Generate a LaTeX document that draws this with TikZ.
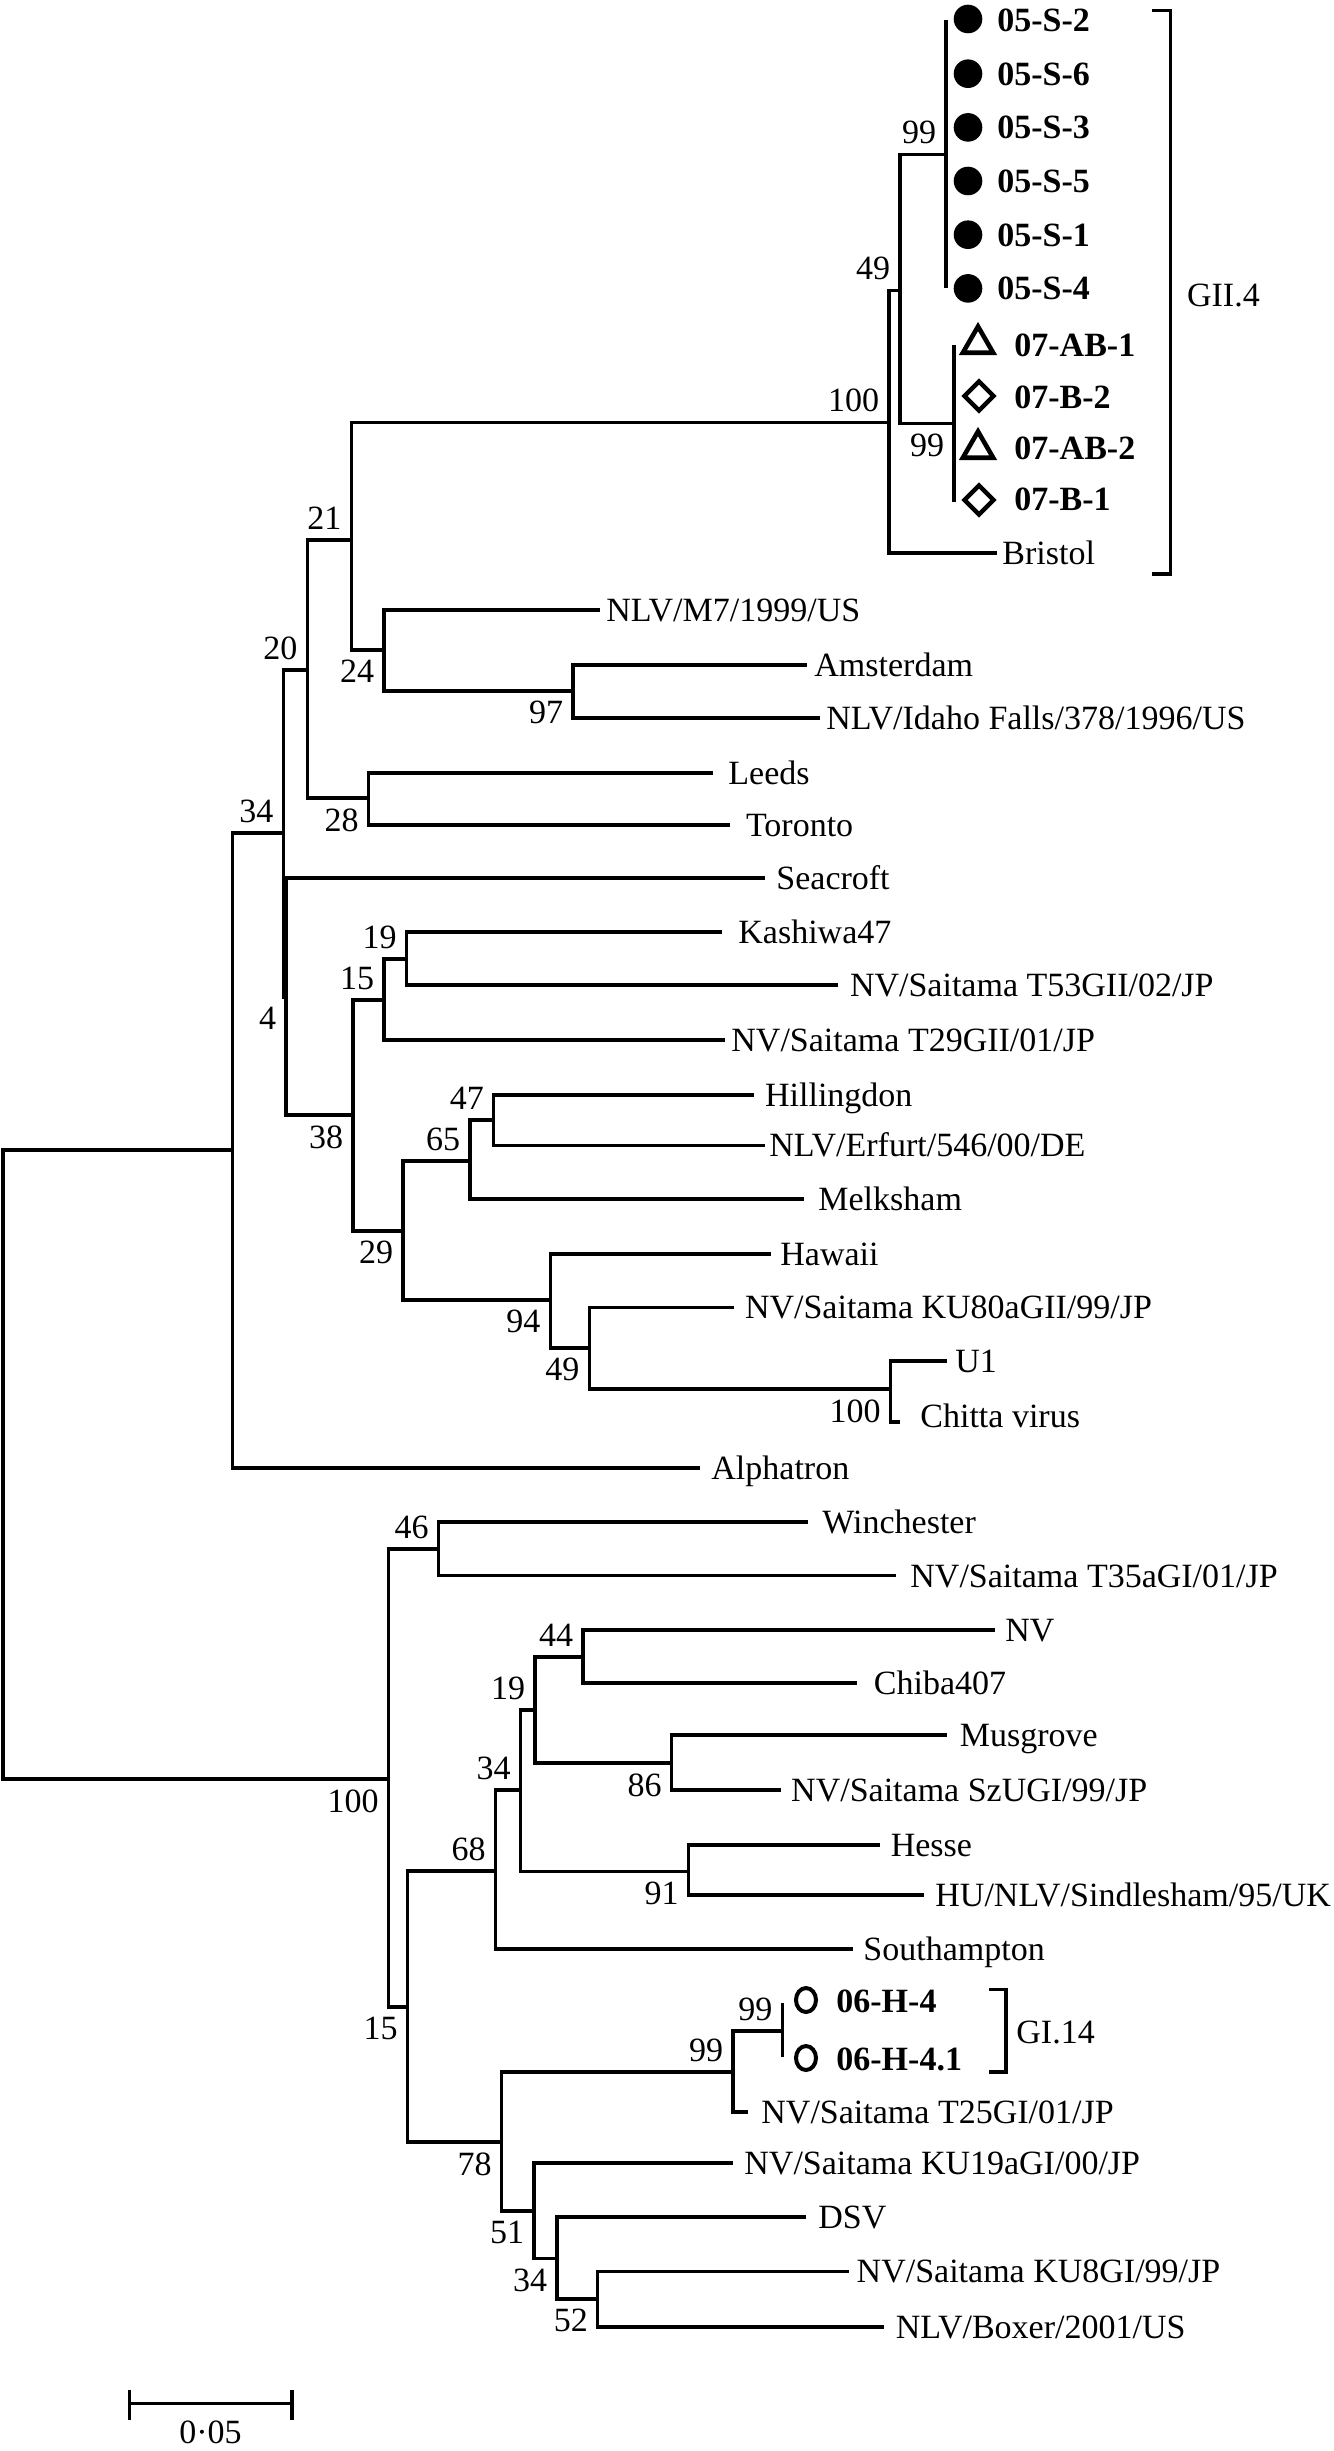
\documentclass[tikz,border=0pt]{standalone}
\usepackage{fontspec}
\setmainfont{Liberation Serif}
\usetikzlibrary{shapes.geometric}
\newcommand\tfont{\fontsize{17}{20.4}\selectfont}
\tikzset{
  br/.style={line width=1.65pt, line join=miter},
  leaf/.style={anchor=west, inner sep=0pt, text height=11.5pt, text depth=0pt, font=\tfont},
  bleaf/.style={leaf, font=\tfont\bfseries},
  bsa/.style={anchor=south east, inner sep=0pt, xshift=-4.8pt, yshift=5pt, font=\tfont},
  bsb/.style={anchor=north east, inner sep=0pt, xshift=-4.8pt, yshift=-5pt, font=\tfont},
  fcirc/.style={circle, fill=black, inner sep=0pt, minimum size=14.3pt},
  ocirc/.style={line width=2pt},
  tri/.style={regular polygon, regular polygon sides=3, draw=black, line width=2.3pt, inner sep=0pt, minimum size=17.5pt},
  dia/.style={diamond, draw=black, line width=2.2pt, inner sep=0pt, minimum width=15.5pt, minimum height=15.5pt},
}
\begin{document}
\begin{tikzpicture}[x=0.5pt,y=-0.5pt]
\useasboundingbox (0,0) rectangle (1333,2451);
% internal nodes
\coordinate (root) at (3,1465);
\coordinate (nA) at (232.3,1150);
\coordinate (n34) at (283.3,833);
\coordinate (n20) at (307.4,670);
\coordinate (n21) at (351.4,540);
\coordinate (nG) at (889,422.5);
\coordinate (n49) at (900,290.5);
\coordinate (n99a) at (946,154.2);
\coordinate (n99b) at (954,423.5);
\coordinate (n24) at (384,650);
\coordinate (n97) at (573,691);
\coordinate (n28) at (368.6,798);
\coordinate (n4) at (286,997);
\coordinate (n38) at (353,1115);
\coordinate (n15) at (384,1000);
\coordinate (n19) at (406.7,959);
\coordinate (n29) at (403,1231);
\coordinate (n65) at (470,1161);
\coordinate (n47) at (493.75,1120);
\coordinate (n94) at (550.4,1300);
\coordinate (n49b) at (589.3,1348);
\coordinate (n100c) at (890.7,1389);
\coordinate (nB) at (388.6,1779);
\coordinate (n46) at (438.5,1549);
\coordinate (n15b) at (407.7,2007);
\coordinate (n68) at (495.5,1871);
\coordinate (n34b) at (520.5,1790);
\coordinate (n19b) at (535,1710);
\coordinate (n44) at (583,1657);
\coordinate (n86) at (671.6,1763);
\coordinate (n91) at (688.6,1871.5);
\coordinate (n78) at (501.7,2142);
\coordinate (n99c) at (733,2072);
\coordinate (n99d) at (782.3,2031);
\coordinate (n51) at (534,2211);
\coordinate (n34c) at (557,2258.5);
\coordinate (n52) at (597.8,2299);
% leaf ends
\coordinate (l1) at (946,20);
\coordinate (l2) at (946,73.7);
\coordinate (l3) at (946,127.4);
\coordinate (l4) at (946,181);
\coordinate (l5) at (946,234.7);
\coordinate (l6) at (946,288.4);
\coordinate (l7) at (954,345);
\coordinate (l8) at (954,398);
\coordinate (l9) at (954,450);
\coordinate (l10) at (954,502);
\coordinate (lBr) at (996.7,553);
\coordinate (lM7) at (600,610);
\coordinate (lAm) at (807,665);
\coordinate (lId) at (820,718);
\coordinate (lLe) at (713,773);
\coordinate (lTo) at (730,825);
\coordinate (lSe) at (764.7,878);
\coordinate (lKa) at (722,932);
\coordinate (lT53) at (838,985);
\coordinate (lT29) at (724.6,1040);
\coordinate (lHi) at (753.6,1095);
\coordinate (lEr) at (764.7,1145.4);
\coordinate (lMe) at (803.6,1199);
\coordinate (lHa) at (771,1254);
\coordinate (lK80) at (733.5,1307.3);
\coordinate (lU1) at (946.7,1361);
\coordinate (lCh) at (900,1422);
\coordinate (lAl) at (700,1468);
\coordinate (lWi) at (808,1522);
\coordinate (lT35) at (895.5,1575.5);
\coordinate (lNV) at (994.5,1630);
\coordinate (lCb) at (856.6,1683);
\coordinate (lMu) at (947,1735);
\coordinate (lSz) at (781.3,1790);
\coordinate (lHe) at (880,1845);
\coordinate (lHU) at (923.7,1895);
\coordinate (lSo) at (852.8,1949);
\coordinate (lH1) at (782.3,2003);
\coordinate (lH2) at (782.3,2057);
\coordinate (lT25) at (748,2112);
\coordinate (lK19) at (733,2163);
\coordinate (lDS) at (806,2217);
\coordinate (lK8) at (848.6,2271.3);
\coordinate (lBo) at (884.4,2327);
% branches
\foreach \p/\c in {root/nA, root/nB, nA/n34, nA/lAl, n34/n20, n34/n4, n20/n21, n20/n28,
  n21/nG, n21/n24, nG/n49, nG/lBr, n49/n99a, n49/n99b,
  n99a/l1, n99a/l2, n99a/l3, n99a/l4, n99a/l5, n99a/l6,
  n99b/l7, n99b/l8, n99b/l9, n99b/l10,
  n24/lM7, n24/n97, n97/lAm, n97/lId, n28/lLe, n28/lTo,
  n4/lSe, n4/n38, n38/n15, n38/n29, n15/n19, n15/lT29, n19/lKa, n19/lT53,
  n29/n65, n29/n94, n65/n47, n65/lMe, n47/lHi, n47/lEr,
  n94/lHa, n94/n49b, n49b/lK80, n49b/n100c, n100c/lU1, n100c/lCh,
  nB/n46, nB/n15b, n46/lWi, n46/lT35, n15b/n68, n15b/n78,
  n68/n34b, n68/lSo, n34b/n19b, n34b/n91, n19b/n44, n19b/n86,
  n44/lNV, n44/lCb, n86/lMu, n86/lSz, n91/lHe, n91/lHU,
  n78/n99c, n78/n51, n99c/n99d, n99c/lT25, n99d/lH1, n99d/lH2,
  n51/lK19, n51/n34c, n34c/lDS, n34c/n52, n52/lK8, n52/lBo}
  \draw[br] (\p) |- (\c);
% bootstrap labels
\node[bsa] (b99a) at (n99a) {99};
\node[bsa] (b49) at (n49) {49};
\node[bsa] (bG) at (nG) {100};
\node[bsa] (b21) at (n21) {21};
\node[bsa] (b20) at (n20) {20};
\node[bsa] (b34) at (n34) {34};
\node[bsa] (b15) at (n15) {15};
\node[bsa] (b19) at (n19) {19};
\node[bsa] (b65) at (n65) {65};
\node[bsa] (b47) at (n47) {47};
\node[bsa] (b46) at (n46) {46};
\node[bsa] (b44) at (n44) {44};
\node[bsa] (b19b) at (n19b) {19};
\node[bsa] (b34b) at (n34b) {34};
\node[bsa] (b68) at (n68) {68};
\node[bsa] (b99c) at (n99c) {99};
\node[bsa] (b99d) at (n99d) {99};
\node[bsb] (b99b) at (n99b) {99};
\node[bsb] (b24) at (n24) {24};
\node[bsb] (b97) at (n97) {97};
\node[bsb] (b28) at (n28) {28};
\node[bsb] (b4) at (n4) {4};
\node[bsb] (b38) at (n38) {38};
\node[bsb] (b29) at (n29) {29};
\node[bsb] (b94) at (n94) {94};
\node[bsb] (b49b) at (n49b) {49};
\node[bsb] (b100c) at (n100c) {100};
\node[bsb] (bB) at (nB) {100};
\node[bsb] (b86) at (n86) {86};
\node[bsb] (b91) at (n91) {91};
\node[bsb] (b15b) at (n15b) {15};
\node[bsb] (b78) at (n78) {78};
\node[bsb] (b51) at (n51) {51};
\node[bsb] (b34c) at (n34c) {34};
\node[bsb] (b52) at (n52) {52};
% symbols
\node[fcirc] (s1) at (968,19) {};
\node[fcirc] (s2) at (968,73.7) {};
\node[fcirc] (s3) at (968,127.4) {};
\node[fcirc] (s4) at (968,181) {};
\node[fcirc] (s5) at (968,234.7) {};
\node[fcirc] (s6) at (968,288.4) {};
\node[tri] (s7) at (978,344) {};
\node[dia] (s8) at (979,396) {};
\node[tri] (s9) at (978,449) {};
\node[dia] (s10) at (979,500) {};
\coordinate (s11) at (806,2000);
\coordinate (s12) at (806,2058);
\draw[ocirc] (s11) ellipse [x radius=10, y radius=12];
\draw[ocirc] (s12) ellipse [x radius=10, y radius=12];
% leaf texts
\node[bleaf] (t1) at (997,20) {05-S-2};
\node[bleaf] (t2) at (997,73.7) {05-S-6};
\node[bleaf] (t3) at (997,127.4) {05-S-3};
\node[bleaf] (t4) at (997,181) {05-S-5};
\node[bleaf] (t5) at (997,234.7) {05-S-1};
\node[bleaf] (t6) at (997,288.4) {05-S-4};
\node[bleaf] (t7) at (1014,345) {07-AB-1};
\node[bleaf] (t8) at (1014,397) {07-B-2};
\node[bleaf] (t9) at (1014,448) {07-AB-2};
\node[bleaf] (t10) at (1014,499) {07-B-1};
\node[leaf] (tBr) at (1002,553) {Bristol};
\node[leaf] (tM7) at (606,610) {NLV/M7/1999/US};
\node[leaf] (tAm) at (814,665) {Amsterdam};
\node[leaf] (tId) at (826,718) {NLV/Idaho Falls/378/1996/US};
\node[leaf] (tLe) at (728,773) {Leeds};
\node[leaf] (tTo) at (745.6,825) {Toronto};
\node[leaf] (tSe) at (776,878) {Seacroft};
\node[leaf] (tKa) at (738,932) {Kashiwa47};
\node[leaf] (tT53) at (849.6,985) {NV/Saitama T53GII/02/JP};
\node[leaf] (tT29) at (731,1040) {NV/Saitama T29GII/01/JP};
\node[leaf] (tHi) at (764.7,1095) {Hillingdon};
\node[leaf] (tEr) at (769,1145.4) {NLV/Erfurt/546/00/DE};
\node[leaf] (tMe) at (818,1199) {Melksham};
\node[leaf] (tHa) at (780,1254) {Hawaii};
\node[leaf] (tK80) at (744.6,1307.3) {NV/Saitama KU80aGII/99/JP};
\node[leaf] (tU1) at (955,1361) {U1};
\node[leaf] (tCh) at (920,1416) {Chitta virus};
\node[leaf] (tAl) at (711,1468) {Alphatron};
\node[leaf] (tWi) at (822,1522) {Winchester};
\node[leaf] (tT35) at (910,1575.5) {NV/Saitama T35aGI/01/JP};
\node[leaf] (tNV) at (1005,1630) {NV};
\node[leaf] (tCb) at (873.5,1683) {Chiba407};
\node[leaf] (tMu) at (959.4,1735) {Musgrove};
\node[leaf] (tSz) at (790.8,1790) {NV/Saitama SzUGI/99/JP};
\node[leaf] (tHe) at (890.4,1845) {Hesse};
\node[leaf] (tHU) at (935,1895) {HU/NLV/Sindlesham/95/UK};
\node[leaf] (tSo) at (863,1949) {Southampton};
\node[bleaf] (tH1) at (836,2001) {06-H-4};
\node[bleaf] (tH2) at (836,2059) {06-H-4.1};
\node[leaf] (tT25) at (761,2112) {NV/Saitama T25GI/01/JP};
\node[leaf] (tK19) at (744,2163) {NV/Saitama KU19aGI/00/JP};
\node[leaf] (tDS) at (818,2217) {DSV};
\node[leaf] (tK8) at (856.3,2271.3) {NV/Saitama KU8GI/99/JP};
\node[leaf] (tBo) at (895.4,2327) {NLV/Boxer/2001/US};
% clade brackets
\coordinate (g1) at (1151.7,10.3);
\coordinate (g2) at (1170.7,10.3);
\coordinate (g3) at (1170.7,574);
\coordinate (g4) at (1151.7,574);
\draw[br] (g1) -- (g2) -- (g3) -- (g4);
\node[leaf] (gii4) at (1186.7,294.7) {GII.4};
\coordinate (h1) at (989,1989.4);
\coordinate (h2) at (1006,1989.4);
\coordinate (h3) at (1006,2072);
\coordinate (h4) at (989,2072);
\draw[br] (h1) -- (h2) -- (h3) -- (h4);
\node[leaf] (gi14) at (1016,2031.8) {GI.14};
% scale bar
\coordinate (sa) at (129.3,2403.3);
\coordinate (sb) at (291.7,2403.3);
\draw[line width=1.8pt] (sa) -- (sb);
\draw[line width=1.8pt] ([yshift=6.65pt]sa) -- ([yshift=-8.35pt]sa);
\draw[line width=1.8pt] ([yshift=6.65pt]sb) -- ([yshift=-8.35pt]sb);
\node[anchor=north, inner sep=0pt, font=\tfont] (sl) at (210.5,2420) {0·05};
\end{tikzpicture}
\end{document}
